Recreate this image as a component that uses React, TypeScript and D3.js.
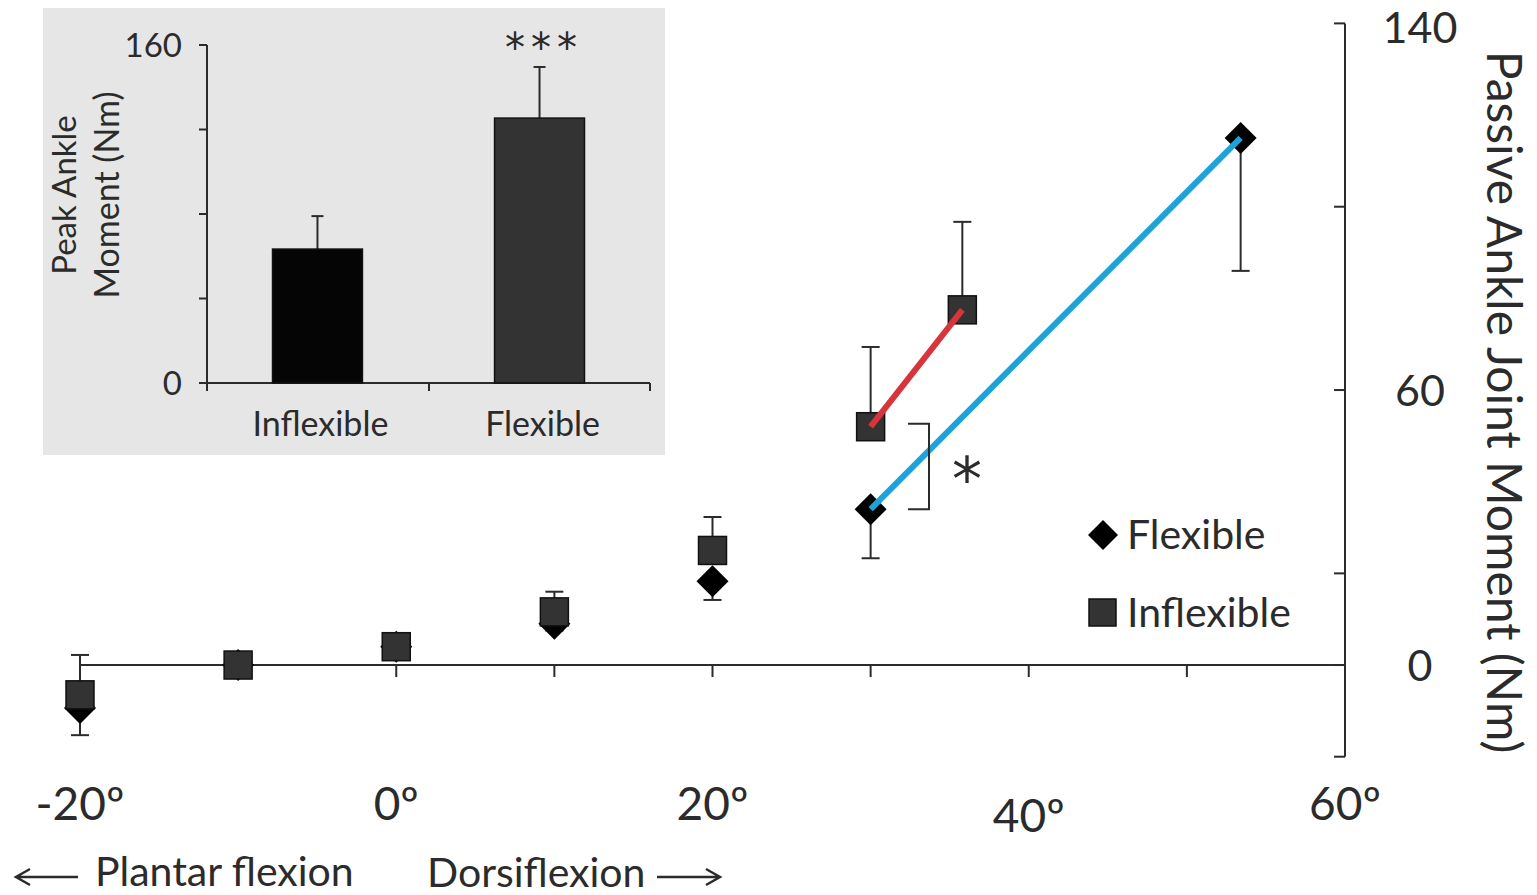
import * as d3 from 'd3';

// main chart: passive ankle moment vs angle
const flexAngle = [-20, -10, 0, 10, 20, 30, 53.4];
const flexMoment = [-9.4, 0, 4, 9, 18.3, 34, 115];
const flexErrLow = [-15.3, -1.5, 2.5, 7.5, 14.2, 23.3, 86];

const inflexAngle = [-20, -10, 0, 10, 20, 30, 35.8];
const inflexMoment = [-6.5, 0, 4, 11.6, 25, 52, 77.5];
const inflexErrHigh = [2.2, 1.5, 6.5, 16, 32.3, 69.4, 96.7];

// points joined by a line (indices)
const flexLineIdx = [5, 6];
const inflexLineIdx = [5, 6];

const xTicks = [-20, -10, 0, 10, 20, 30, 40, 50, 60];
const xLabels = [-20, 0, 20, 40, 60];
const yTicks = [-20, 0, 20, 60, 100, 140];
const yLabels = [0, 60, 140];

// inset: peak ankle moment
const insetGroups = ['Inflexible', 'Flexible'];
const insetValues = [63.4, 125.4];
const insetErrHigh = [79, 149.6];
const insetTicks = [0, 40, 80, 120, 160];
const insetLabels = [0, 160];

const FONT = 'Lato, "Open Sans", sans-serif';
const STAR = '"DejaVu Sans", sans-serif';
const INK = '#2b2b2b';

export default function App() {
  const x = d3.scaleLinear().domain([-20, 60]).range([80, 1345]);
  const y = d3.scaleLinear().domain([-20, 140]).range([756.7, 23.4]);

  const xi = d3.scaleBand().domain(insetGroups).range([207, 650]).paddingInner(0.595).paddingOuter(0.295);
  const yi = d3.scaleLinear().domain([0, 160]).range([383, 45]);

  const line = d3.line<number>().x(d => d[0]).y(d => d[1]);
  const flexPts = flexLineIdx.map(i => [x(flexAngle[i]), y(flexMoment[i])] as [number, number]);
  const inflexPts = inflexLineIdx.map(i => [x(inflexAngle[i]), y(inflexMoment[i])] as [number, number]);

  const cap = 9;
  const diamond = (cx: number, cy: number, r: number) =>
    `M${cx},${cy - r}L${cx + r},${cy}L${cx},${cy + r}L${cx - r},${cy}Z`;

  return (
    <svg width={1537} height={895} style={{ position: 'absolute', left: 0, top: 0, background: '#fff' }} fontFamily={FONT}>
      {/* inset */}
      <rect x={43} y={8} width={622} height={447} fill="#e6e6e6" />
      <line x1={207} x2={207} y1={yi(160)} y2={yi(0) + 8} stroke={INK} strokeWidth={2} />
      {insetTicks.map(t => (
        <line key={t} x1={199} x2={207} y1={yi(t)} y2={yi(t)} stroke={INK} strokeWidth={2} />
      ))}
      {insetLabels.map(t => (
        <text key={t} x={182} y={yi(t) + 12} textAnchor="end" fontSize={33} fill={INK}>{t}</text>
      ))}
      <line x1={199} x2={650} y1={yi(0)} y2={yi(0)} stroke={INK} strokeWidth={2} />
      {[207, 429, 650].map(p => (
        <line key={p} x1={p} x2={p} y1={yi(0)} y2={yi(0) + 8} stroke={INK} strokeWidth={2} />
      ))}
      {insetGroups.map((g, i) => {
        const bx = xi(g)!;
        const cx = bx + xi.bandwidth() / 2;
        return (
          <g key={g}>
            <line x1={cx} x2={cx} y1={yi(insetValues[i])} y2={yi(insetErrHigh[i])} stroke={INK} strokeWidth={2} />
            <line x1={cx - 6} x2={cx + 6} y1={yi(insetErrHigh[i])} y2={yi(insetErrHigh[i])} stroke={INK} strokeWidth={2} />
            <rect x={bx} y={yi(insetValues[i])} width={xi.bandwidth()} height={yi(0) - yi(insetValues[i])}
              fill={i === 0 ? '#050505' : '#333333'} stroke="#111" strokeWidth={1.5} />
            <text x={cx + 3} y={436} textAnchor="middle" fontSize={34} fill={INK}>{g}</text>
          </g>
        );
      })}
      <text x={544} y={62} textAnchor="middle" fontSize={40} fill={INK} fontFamily={STAR} letterSpacing={6}>***</text>
      <text transform="translate(76,195) rotate(-90)" textAnchor="middle" fontSize={33} fill={INK}>Peak Ankle</text>
      <text transform="translate(119,195) rotate(-90)" textAnchor="middle" fontSize={34} fill={INK}>Moment (Nm)</text>

      {/* main axes */}
      <line x1={x(-20)} x2={x(60)} y1={y(0)} y2={y(0)} stroke={INK} strokeWidth={2} />
      {xTicks.filter(t => t > -20 && t < 60).map(t => (
        <line key={t} x1={x(t)} x2={x(t)} y1={y(0)} y2={y(0) + 12} stroke={INK} strokeWidth={2} />
      ))}
      {xLabels.map(t => (
        <text key={t} x={x(t)} y={t === 40 ? 832 : 820} textAnchor="middle" fontSize={46} fill={INK}>
          {t}º
        </text>
      ))}
      <line x1={x(60)} x2={x(60)} y1={y(140)} y2={y(-20)} stroke={INK} strokeWidth={2} />
      {yTicks.map(t => (
        <line key={t} x1={x(60) - 11} x2={x(60)} y1={y(t)} y2={y(t)} stroke={INK} strokeWidth={2} />
      ))}
      {yLabels.map(t => (
        <text key={t} x={1420} y={Math.max(y(t) + 16, 43)} textAnchor="middle" fontSize={43} fill={INK}>{t}</text>
      ))}
      <text transform="translate(1487,402) rotate(90)" textAnchor="middle" fontSize={48} fill={INK}>
        Passive Ankle Joint Moment (Nm)
      </text>

      {/* error bars */}
      {flexAngle.map((a, i) => (
        <g key={'fe' + i} stroke={INK} strokeWidth={2}>
          <line x1={x(a)} x2={x(a)} y1={y(flexMoment[i])} y2={y(flexErrLow[i])} />
          <line x1={x(a) - cap} x2={x(a) + cap} y1={y(flexErrLow[i])} y2={y(flexErrLow[i])} />
        </g>
      ))}
      {inflexAngle.map((a, i) => (
        <g key={'ie' + i} stroke={INK} strokeWidth={2}>
          <line x1={x(a)} x2={x(a)} y1={y(inflexMoment[i])} y2={y(inflexErrHigh[i])} />
          <line x1={x(a) - cap} x2={x(a) + cap} y1={y(inflexErrHigh[i])} y2={y(inflexErrHigh[i])} />
        </g>
      ))}

      {/* markers */}
      {flexAngle.map((a, i) => (
        <path key={'fd' + i} d={diamond(x(a), y(flexMoment[i]), 16)} fill="#000" />
      ))}
      {inflexAngle.map((a, i) => (
        <rect key={'is' + i} x={x(a) - 14} y={y(inflexMoment[i]) - 14} width={28} height={28}
          fill="#333" stroke="#111" strokeWidth={1.5} />
      ))}

      {/* fitted lines */}
      <path d={line(inflexPts)!} stroke="#d8343b" strokeWidth={6} fill="none" />
      <path d={line(flexPts)!} stroke="#1ea3d8" strokeWidth={6} fill="none" />

      {/* significance bracket */}
      <path d={`M908,${y(inflexMoment[5]) - 3}H929V${y(flexMoment[5])}H908`} stroke={INK} strokeWidth={2} fill="none" />
      <text x={967} y={500} textAnchor="middle" fontSize={60} fill={INK} fontFamily={STAR}>*</text>

      {/* legend */}
      <path d={diamond(1103, 535, 15)} fill="#000" />
      <text x={1127} y={549} fontSize={41} fill={INK}>Flexible</text>
      <rect x={1089} y={599} width={27} height={27} fill="#333" stroke="#111" strokeWidth={1.5} />
      <text x={1127} y={627} fontSize={41} fill={INK}>Inflexible</text>

      {/* direction notes */}
      <g stroke={INK} strokeWidth={2.5} fill="none">
        <path d="M78,877H16M30,869L16,877L30,885" />
        <path d="M657,877H720M706,869L720,877L706,885" />
      </g>
      <text x={95} y={886} fontSize={41} fill={INK}>Plantar flexion</text>
      <text x={427} y={887} fontSize={41} fill={INK}>Dorsiflexion</text>
    </svg>
  );
}
